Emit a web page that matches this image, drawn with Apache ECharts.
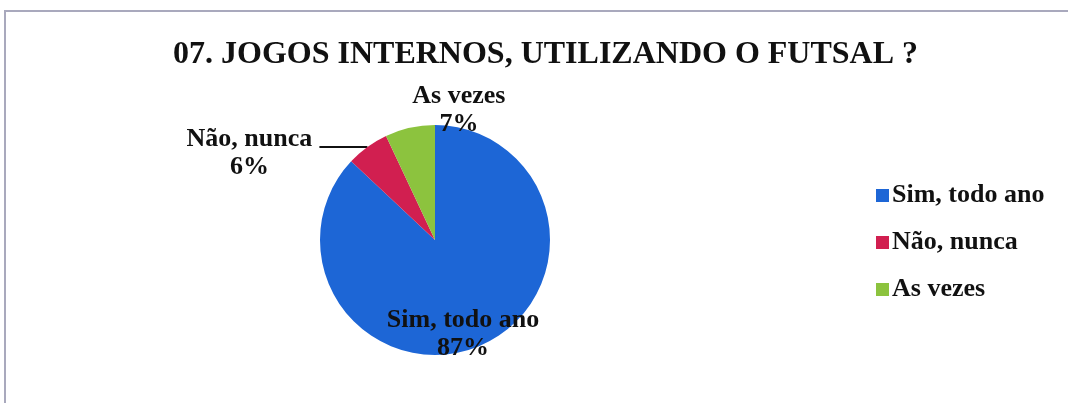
<!DOCTYPE html>
<html lang="pt">
	<head>
		<meta charset="utf-8">
		<title>07. Jogos internos, utilizando o futsal</title>
		<script src="https://cdn.jsdelivr.net/npm/echarts@6/dist/echarts.min.js"></script>
		<style>
			html, body { margin: 0; padding: 0; background: #fff; }
			#frame {
				position: absolute; left: 4px; top: 10px; width: 1100px; height: 420px;
				border-top: 2px solid #a9a9bd; border-left: 2px solid #a9a9bd;
			}
			#chart-pie { position: absolute; left: 0; top: 0; width: 1068px; height: 403px; }
		</style>
	</head>

	<body>
		<div id="frame"></div>
		<div id="chart-pie"></div>

		<script type="text/javascript">
			// dados do gráfico
			var categorias = ['Sim, todo ano', 'Não, nunca', 'As vezes'];
			var valores = [87, 6, 7];
			var cores = ['#1d66d6', '#d11f50', '#8cc33e'];

			var fonte = '"Liberation Serif", "Times New Roman", serif';

			var pieChart = echarts.init(document.getElementById('chart-pie'));

			// rótulo com linhas centralizadas
			function rotulo(largura) {
				return {
					formatter: '{t|{b}}\n{t|{d}%}',
					rich: {
						t: {
							width: largura, align: 'center',
							fontFamily: fonte, fontWeight: 'bold', fontSize: 26,
							lineHeight: 28, color: '#111'
						}
					}
				};
			}

			var dados = categorias.map(function (nome, i) {
				return { name: nome, value: valores[i], itemStyle: { color: cores[i] } };
			});
			dados[0].label = Object.assign({ position: 'inside' }, rotulo(170));
			dados[0].labelLine = { show: false };
			dados[1].label = Object.assign({ position: 'outside', padding: [12, 0, 0, 0], distanceToLabelLine: 4 }, rotulo(132));
			dados[1].labelLine = { show: true, length: 0, length2: 48, lineStyle: { color: '#111', width: 2 } };
			dados[2].label = Object.assign({ position: 'outside' }, rotulo(116));
			dados[2].labelLine = { show: false, length: 0, length2: 0 };

			var option = {
				animation: false,
				title: {
					text: '07. JOGOS INTERNOS, UTILIZANDO O FUTSAL ?',
					left: 168,
					top: 32,
					textStyle: {
						fontFamily: fonte, fontWeight: 'bold', fontSize: 32,
						lineHeight: 36, color: '#111'
					}
				},
				legend: {
					orient: 'vertical',
					left: 876,
					top: 181,
					padding: 0,
					itemWidth: 13,
					itemHeight: 13,
					itemGap: 18,
					icon: 'rect',
					data: categorias,
					textStyle: {
						fontFamily: fonte, fontWeight: 'bold', fontSize: 26,
						lineHeight: 29, color: '#111', padding: [0, 0, 0, -2]
					}
				},
				series: [
					{
						type: 'pie',
						center: [435, 240],
						radius: 115,
						startAngle: 90,
						clockwise: true,
						avoidLabelOverlap: false,
						itemStyle: { borderWidth: 0 },
						labelLayout: function (params) {
							if (params.dataIndex === 0) {
								return { dx: 4, dy: 39 };
							}
							if (params.dataIndex === 2) {
								return { dx: 112, dy: -17 };
							}
							return {};
						},
						data: dados
					}
				]
			};

			pieChart.setOption(option);
		</script>
	</body>
</html>
